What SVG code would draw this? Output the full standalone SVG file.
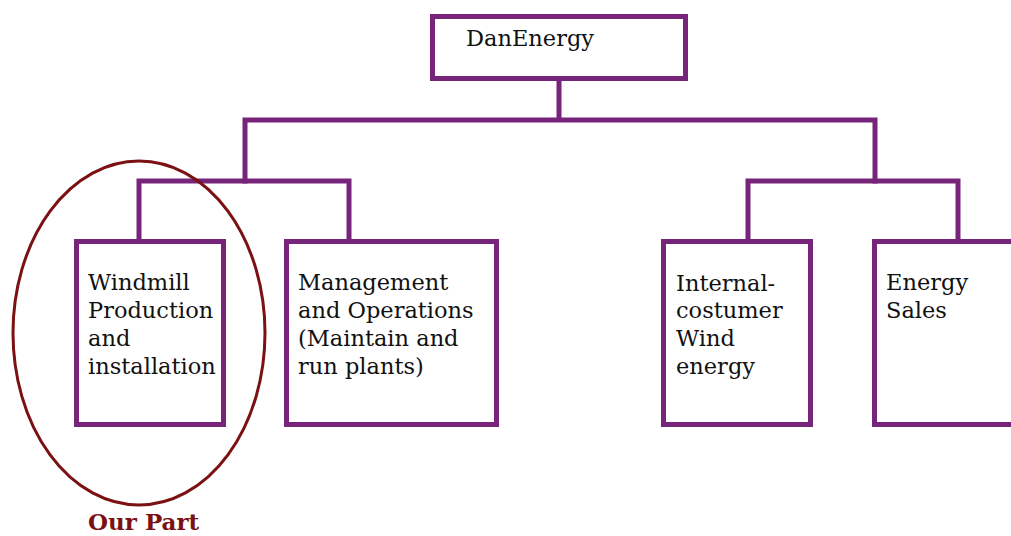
<svg xmlns="http://www.w3.org/2000/svg" width="1011" height="536" viewBox="0 0 1011 536">
  <style>
    .box { fill: #ffffff; stroke: #76257a; stroke-width: 5; }
    .link { fill: none; stroke: #76257a; stroke-width: 5; stroke-linecap: square; }
    .lbl { font-family: "DejaVu Serif", "Liberation Serif", serif; font-size: 22.5px; fill: #111111; }
    .mark { fill: none; stroke: #7b1113; stroke-width: 3; }
    .note { font-family: "DejaVu Serif", "Liberation Serif", serif; font-size: 23px; font-weight: bold; fill: #7b1113; }
  </style>
  <rect width="1011" height="536" fill="#ffffff"/>

  <!-- connectors -->
  <g id="connectors">
    <path class="link" d="M559 79 V120 M245 120 H875 M245 120 V181 M875 120 V181"/>
    <path class="link" d="M139 181 H349 M139 181 V240 M349 181 V240"/>
    <path class="link" d="M748 181 H958 M748 181 V240 M958 181 V240"/>
  </g>

  <g id="root">
    <rect class="box" x="432.5" y="16.5" width="253" height="62"/>
    <text class="lbl" x="466" y="46">DanEnergy</text>
  </g>

  <g id="windmill">
    <rect class="box" x="76.5" y="241.5" width="147" height="183"/>
    <text class="lbl" x="88" y="290">Windmill</text>
    <text class="lbl" x="88" y="318">Production</text>
    <text class="lbl" x="88" y="346">and</text>
    <text class="lbl" x="88" y="374">installation</text>
  </g>

  <g id="management">
    <rect class="box" x="286.5" y="241.5" width="210" height="183"/>
    <text class="lbl" x="298" y="290">Management</text>
    <text class="lbl" x="298" y="318">and Operations</text>
    <text class="lbl" x="298" y="346">(Maintain and</text>
    <text class="lbl" x="298" y="374">run plants)</text>
  </g>

  <g id="internal">
    <rect class="box" x="663.5" y="241.5" width="147" height="183"/>
    <text class="lbl" x="676" y="291">Internal-</text>
    <text class="lbl" x="676" y="318">costumer</text>
    <text class="lbl" x="676" y="346">Wind</text>
    <text class="lbl" x="676" y="374">energy</text>
  </g>

  <g id="sales">
    <rect class="box" x="874.5" y="241.5" width="160" height="183"/>
    <text class="lbl" x="886" y="290">Energy</text>
    <text class="lbl" x="886" y="318">Sales</text>
  </g>

  <g id="our-part">
    <ellipse class="mark" cx="139" cy="333" rx="126" ry="172"/>
    <text class="note" x="88" y="530">Our Part</text>
  </g>
</svg>
